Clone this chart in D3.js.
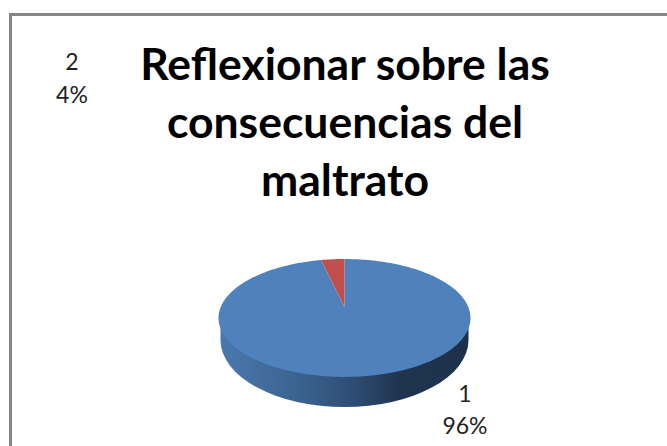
<!DOCTYPE html>
<html><head><meta charset="utf-8">
<script src="https://cdnjs.cloudflare.com/ajax/libs/d3/7.8.5/d3.min.js"></script>
<style>html,body{margin:0;padding:0;background:#fff}svg{display:block}</style>
</head><body><svg id="c" width="667" height="446"></svg>
<script>
const categories = ["1","2"];
const values = [96.4,3.6];
const percentLabels = ["96%","4%"];
const titleLines = ["Reflexionar sobre las","consecuencias del","maltrato"];
const colors = ["#4f81bd","#c0504d"];

const W=667,H=446;
// perspective projection of the pie disc
const cx=344.5,apexY=307,k=-0.186,a=56.9,R=123.8;
const project=t=>{const u=Math.sin(t),v=-Math.cos(t),w=1+k*v;return [cx+R*u/w,apexY+a*v/w];};
const svg=d3.select("#c");
const defs=svg.append("defs");
const botRx=124,botCy=340,botRy=67;
const g=defs.append("linearGradient").attr("id","side").attr("gradientUnits","userSpaceOnUse")
 .attr("x1",cx-botRx).attr("x2",cx+botRx).attr("y1",0).attr("y2",0);
[[0,"#4a78ae"],[0.3,"#3c6491"],[0.55,"#2d4b72"],[0.72,"#1f344f"],[1,"#1d314c"]]
 .forEach(([o,c])=>g.append("stop").attr("offset",o).attr("stop-color",c));

// frame
svg.append("path").attr("d",`M10.5,${H}V14.5H${W}`).attr("fill","none").attr("stroke","#858585").attr("stroke-width",3);

// side wall
svg.append("path")
 .attr("d",`M${cx-botRx},318V${botCy}A${botRx},${botRy} 0 0 0 ${cx+botRx},${botCy}V318Z`)
 .attr("fill","url(#side)");

// top face
const pie=d3.pie().sort(null).value(d=>d);
const line=d3.line();
const slicePath=d=>{
 const n=Math.max(2,Math.ceil((d.endAngle-d.startAngle)*40));
 const pts=d3.range(n+1).map(i=>project(d.startAngle+(d.endAngle-d.startAngle)*i/n));
 return line([[cx,apexY],...pts])+"Z";
};
svg.append("g").selectAll("path").data(pie(values)).join("path")
 .attr("d",slicePath).attr("fill",(d,i)=>colors[i]);

// title
const fam='Lato, "Open Sans", sans-serif';
const titleY=[80,138,196];
svg.append("g").selectAll("text").data(titleLines).join("text")
 .attr("x",345).attr("y",(d,i)=>titleY[i]).attr("text-anchor","middle")
 .attr("font-family",fam).attr("font-weight",700).attr("font-size",44.5).attr("fill","#000").text(d=>d);

// data labels
const labelPos=[[465,402,434],[72,70,103]];
categories.forEach((c,i)=>{
 const [x,y1,y2]=labelPos[i];
 [[c,y1],[percentLabels[i],y2]].forEach(([t,y])=>
  svg.append("text").attr("x",x).attr("y",y).attr("text-anchor","middle").attr("font-family",fam).attr("font-size",23).attr("fill","#222").text(t));
});
</script></body></html>
